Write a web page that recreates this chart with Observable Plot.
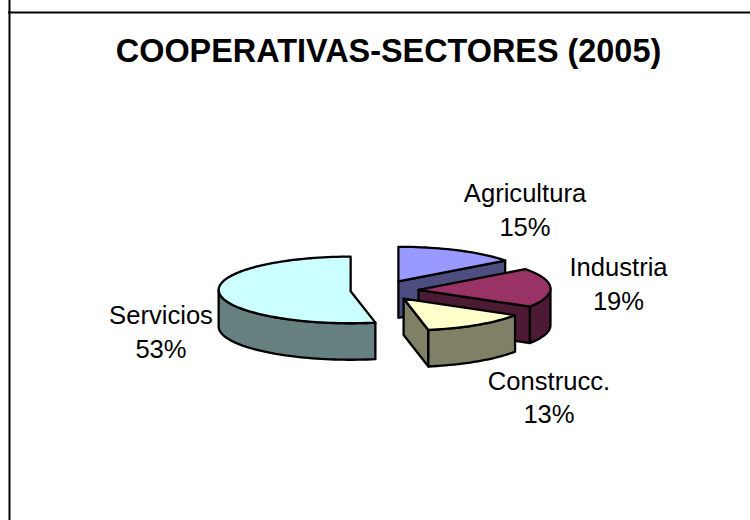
<!DOCTYPE html>
<html>
<head>
<meta charset="utf-8">
<script src="https://cdn.jsdelivr.net/npm/d3@7"></script>
<script src="https://cdn.jsdelivr.net/npm/@observablehq/plot@0.6"></script>
<style>
html,body{margin:0;padding:0;background:#fff;overflow:hidden}
svg{display:block}
</style>
</head>
<body>
<script>
const titleText = "COOPERATIVAS-SECTORES (2005)";
const sectors = ["Agricultura", "Industria", "Construcc.", "Servicios"];
const shares = [15, 19, 13, 53];
const topColors = ["#9999FF", "#993366", "#FFFFCC", "#CCFFFF"];
const wallColors = ["#4D4D80", "#4D1A33", "#808066", "#668080"];

// Layout of the pie, in pixels of the 750x520 canvas
const W = 750, H = 520;
const CX = 384, CY = 288.5, RX = 132, RY = 33.3, DEPTH = 36.5, EX = 34, EY = 10, APEX_DROP = 1.3;
const pull = [0.9, 1, 1, 1];
// Scale domains are in pie units: radius = 1, y points up
const xDomain = [-CX / RX, (W - CX) / RX];
const yDomain = [-(H - CY) / RY, CY / RY];
const depthU = DEPTH / RY, dropU = APEX_DROP / RY;
const labelPos = [[524.5, 207.5], [618, 281.8], [548.5, 395.1], [160.5, 329.5]]; // label centres in px
const rad = d => d * Math.PI / 180;

const faces = [];
let cum = 0;
sectors.forEach((name, i) => {
  const a0 = cum / 100 * 360, a1 = (cum + shares[i]) / 100 * 360;
  cum += shares[i];
  const mid = rad((a0 + a1) / 2);
  const ox = pull[i] * EX * Math.sin(mid) / RX, oy = EY * Math.cos(mid) / RY;
  const pt = (a, down = 0) => ({x: ox + Math.sin(rad(a)), y: oy + Math.cos(rad(a)) - down});
  const apex = (down = 0) => ({x: ox, y: oy - dropU - down});
  const arc = (from, to, down = 0) => {
    const n = Math.max(1, Math.ceil(Math.abs(to - from) / 2));
    return d3.range(n + 1).map(k => pt(from + (to - from) * k / n, down));
  };
  // end cut face, when it looks at the viewer
  if (a1 < 180) faces.push({fill: wallColors[i], pts: [apex(), pt(a1), pt(a1, depthU), apex(depthU)]});
  // outer wall: the part of the rim on the near side
  const w0 = Math.max(a0, 90), w1 = Math.min(a1, 270);
  if (w1 > w0) faces.push({fill: wallColors[i], pts: [...arc(w0, w1), ...arc(w1, w0, depthU)]});
  // top surface
  faces.push({fill: topColors[i], pts: [apex(), ...arc(a0, a1)]});
});

const toX = px => (px - CX) / RX, toY = py => (CY - py) / RY;
const labels = sectors.map((s, i) => ({
  text: `${s}\n${shares[i]}%`, x: toX(labelPos[i][0]), y: toY(labelPos[i][1])
}));

const chart = Plot.plot({
  width: W, height: H,
  margin: 0,
  x: {domain: xDomain, range: [0, W], axis: null},
  y: {domain: yDomain, range: [H, 0], axis: null},
  style: {background: "#fff"},
  marks: [
    Plot.ruleX([toX(9)], {stroke: "#000", strokeWidth: 2}),
    Plot.ruleY([toY(12)], {x1: toX(8), x2: toX(W), stroke: "#000", strokeWidth: 2}),
    ...faces.map(f => Plot.line(f.pts, {
      x: "x", y: "y", curve: "linear-closed", fill: f.fill,
      stroke: "#000", strokeWidth: 2.3, strokeLinejoin: "round"
    })),
    Plot.text(labels, {
      x: "x", y: "y", text: "text", fontSize: 25.6, lineHeight: 1.32,
      fontFamily: "Liberation Sans", fill: "#000", textAnchor: "middle"
    }),
    Plot.text([titleText], {
      x: toX(388), y: toY(51), text: d => d, fontSize: 32.4, fontWeight: "bold",
      fontFamily: "Liberation Sans", fill: "#000", textAnchor: "middle"
    })
  ]
});
document.body.appendChild(chart);
</script>
</body>
</html>
